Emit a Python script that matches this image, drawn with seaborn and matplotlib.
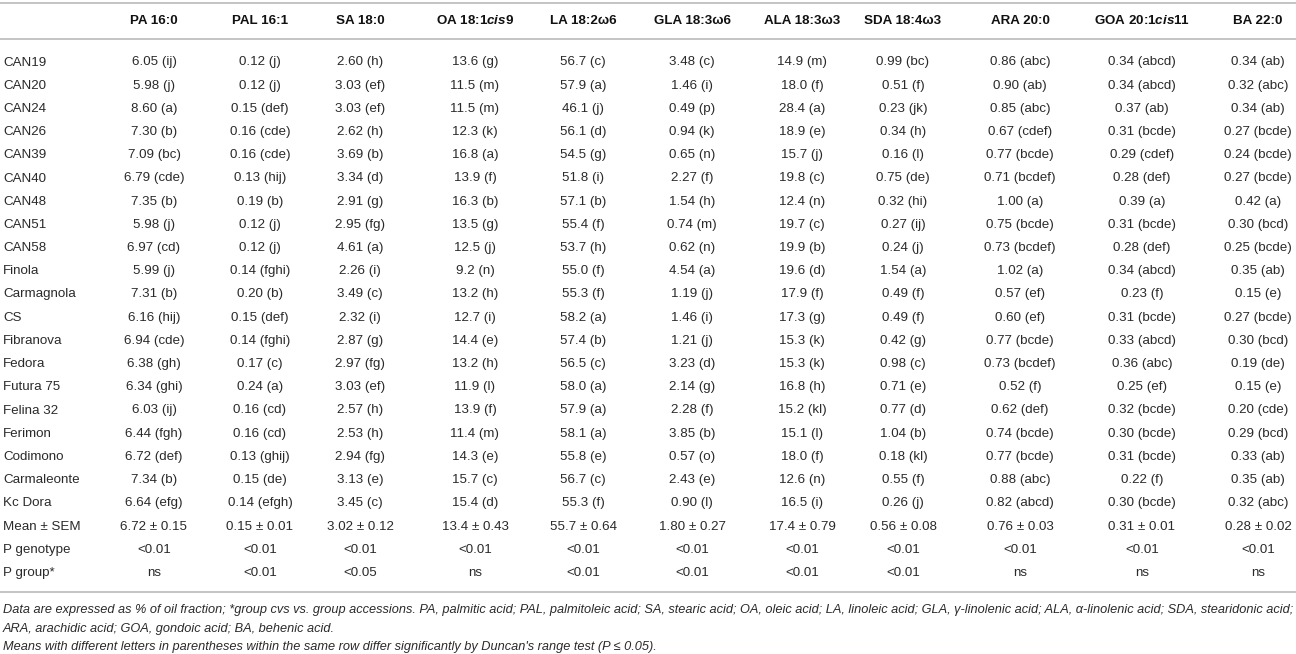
import matplotlib
matplotlib.use("Agg")
import matplotlib.pyplot as plt
import seaborn as sns
import pandas as pd

# row labels
genotypes = ["CAN19", "CAN20", "CAN24", "CAN26", "CAN39", "CAN40", "CAN48", "CAN51",
             "CAN58", "Finola", "Carmagnola", "CS", "Fibranova", "Fedora", "Futura 75",
             "Felina 32", "Ferimon", "Codimono", "Carmaleonte", "Kc Dora"]

# column headers (mathtext only for the italic "cis")
headers = ["PA 16:0", "PAL 16:1", "SA 18:0", r"OA 18:1$\mathit{cis}$9", "LA 18:2ω6",
           "GLA 18:3ω6", "ALA 18:3ω3", "SDA 18:4ω3", "ARA 20:0",
           r"GOA 20:1$\mathit{cis}$11", "BA 22:0"]

# values (% of oil fraction) and Duncan letters per fatty acid
pa = [6.05, 5.98, 8.60, 7.30, 7.09, 6.79, 7.35, 5.98, 6.97, 5.99, 7.31, 6.16, 6.94, 6.38,
      6.34, 6.03, 6.44, 6.72, 7.34, 6.64]
pa_let = ["ij", "j", "a", "b", "bc", "cde", "b", "j", "cd", "j", "b", "hij", "cde", "gh",
          "ghi", "ij", "fgh", "def", "b", "efg"]
pal = [0.12, 0.12, 0.15, 0.16, 0.16, 0.13, 0.19, 0.12, 0.12, 0.14, 0.20, 0.15, 0.14, 0.17,
       0.24, 0.16, 0.16, 0.13, 0.15, 0.14]
pal_let = ["j", "j", "def", "cde", "cde", "hij", "b", "j", "j", "fghi", "b", "def", "fghi",
           "c", "a", "cd", "cd", "ghij", "de", "efgh"]
sa = [2.60, 3.03, 3.03, 2.62, 3.69, 3.34, 2.91, 2.95, 4.61, 2.26, 3.49, 2.32, 2.87, 2.97,
      3.03, 2.57, 2.53, 2.94, 3.13, 3.45]
sa_let = ["h", "ef", "ef", "h", "b", "d", "g", "fg", "a", "i", "c", "i", "g", "fg", "ef",
          "h", "h", "fg", "e", "c"]
oa = [13.6, 11.5, 11.5, 12.3, 16.8, 13.9, 16.3, 13.5, 12.5, 9.2, 13.2, 12.7, 14.4, 13.2,
      11.9, 13.9, 11.4, 14.3, 15.7, 15.4]
oa_let = ["g", "m", "m", "k", "a", "f", "b", "g", "j", "n", "h", "i", "e", "h", "l", "f",
          "m", "e", "c", "d"]
la = [56.7, 57.9, 46.1, 56.1, 54.5, 51.8, 57.1, 55.4, 53.7, 55.0, 55.3, 58.2, 57.4, 56.5,
      58.0, 57.9, 58.1, 55.8, 56.7, 55.3]
la_let = ["c", "a", "j", "d", "g", "i", "b", "f", "h", "f", "f", "a", "b", "c", "a", "a",
          "a", "e", "c", "f"]
gla = [3.48, 1.46, 0.49, 0.94, 0.65, 2.27, 1.54, 0.74, 0.62, 4.54, 1.19, 1.46, 1.21, 3.23,
       2.14, 2.28, 3.85, 0.57, 2.43, 0.90]
gla_let = ["c", "i", "p", "k", "n", "f", "h", "m", "n", "a", "j", "i", "j", "d", "g", "f",
           "b", "o", "e", "l"]
ala = [14.9, 18.0, 28.4, 18.9, 15.7, 19.8, 12.4, 19.7, 19.9, 19.6, 17.9, 17.3, 15.3, 15.3,
       16.8, 15.2, 15.1, 18.0, 12.6, 16.5]
ala_let = ["m", "f", "a", "e", "j", "c", "n", "c", "b", "d", "f", "g", "k", "k", "h", "kl",
           "l", "f", "n", "i"]
sda = [0.99, 0.51, 0.23, 0.34, 0.16, 0.75, 0.32, 0.27, 0.24, 1.54, 0.49, 0.49, 0.42, 0.98,
       0.71, 0.77, 1.04, 0.18, 0.55, 0.26]
sda_let = ["bc", "f", "jk", "h", "l", "de", "hi", "ij", "j", "a", "f", "f", "g", "c", "e",
           "d", "b", "kl", "f", "j"]
ara = [0.86, 0.90, 0.85, 0.67, 0.77, 0.71, 1.00, 0.75, 0.73, 1.02, 0.57, 0.60, 0.77, 0.73,
       0.52, 0.62, 0.74, 0.77, 0.88, 0.82]
ara_let = ["abc", "ab", "abc", "cdef", "bcde", "bcdef", "a", "bcde", "bcdef", "a", "ef",
           "ef", "bcde", "bcdef", "f", "def", "bcde", "bcde", "abc", "abcd"]
goa = [0.34, 0.34, 0.37, 0.31, 0.29, 0.28, 0.39, 0.31, 0.28, 0.34, 0.23, 0.31, 0.33, 0.36,
       0.25, 0.32, 0.30, 0.31, 0.22, 0.30]
goa_let = ["abcd", "abcd", "ab", "bcde", "cdef", "def", "a", "bcde", "def", "abcd", "f",
           "bcde", "abcd", "abc", "ef", "bcde", "bcde", "bcde", "f", "bcde"]
ba = [0.34, 0.32, 0.34, 0.27, 0.24, 0.27, 0.42, 0.30, 0.25, 0.35, 0.15, 0.27, 0.30, 0.19,
      0.15, 0.20, 0.29, 0.33, 0.35, 0.32]
ba_let = ["ab", "abc", "ab", "bcde", "bcde", "bcde", "a", "bcd", "bcde", "ab", "e", "bcde",
          "bcd", "de", "e", "cde", "bcd", "ab", "ab", "abc"]

mean_vals = ["6.72", "0.15", "3.02", "13.4", "55.7", "1.80", "17.4", "0.56", "0.76", "0.31", "0.28"]
sem_vals = ["0.15", "0.01", "0.12", "0.43", "0.64", "0.27", "0.79", "0.08", "0.03", "0.01", "0.02"]
p_genotype = ["<0.01"] * 11
p_group = ["ns", "<0.01", "<0.05", "ns", "<0.01", "<0.01", "<0.01", "<0.01", "ns", "ns", "ns"]

footnotes = [
    "Data are expressed as % of oil fraction; *group cvs vs. group accessions. PA, palmitic acid; "
    "PAL, palmitoleic acid; SA, stearic acid; OA, oleic acid; LA, linoleic acid; GLA, γ-linolenic acid; "
    "ALA, α-linolenic acid; SDA, stearidonic acid;",
    "ARA, arachidic acid; GOA, gondoic acid; BA, behenic acid.",
    "Means with different letters in parentheses within the same row differ significantly by "
    "Duncan's range test (P ≤ 0.05).",
]

# build the cell table
cols = [(pa, pa_let, 2), (pal, pal_let, 2), (sa, sa_let, 2), (oa, oa_let, 1), (la, la_let, 1),
        (gla, gla_let, 2), (ala, ala_let, 1), (sda, sda_let, 2), (ara, ara_let, 2),
        (goa, goa_let, 2), (ba, ba_let, 2)]
table = pd.DataFrame(
    {h: [f"{v:.{d}f} ({l})" for v, l in zip(vals, lets)] for h, (vals, lets, d) in zip(headers, cols)},
    index=genotypes)
table.loc["Mean ± SEM"] = [f"{m} ± {s}" for m, s in zip(mean_vals, sem_vals)]
table.loc["P genotype"] = p_genotype
table.loc["P group*"] = p_group

sns.set_theme(style="white")
plt.rcParams["font.family"] = ["Liberation Sans", "DejaVu Sans"]
plt.rcParams["mathtext.fontset"] = "custom"
plt.rcParams["mathtext.rm"] = "Liberation Sans:bold"
plt.rcParams["mathtext.it"] = "Liberation Sans:italic:bold"

W, H = 1296, 654
fig = plt.figure(figsize=(W / 100, H / 100), dpi=100)
ax = fig.add_axes([0, 0, 1, 1])
ax.set_xlim(0, W)
ax.set_ylim(H, 0)
ax.axis("off")

# layout (pixels)
col_x = [154, 260, 360, 475, 583, 692, 802, 903, 1020, 1142, 1258]
label_x = 3
header_y = 21
row_y0 = 62.5
row_step = 23.2
fs = 9.6
txt_color = "#2a2a2a"
rule_color = "#c4c4c4"

for y in (3, 39, 592):
    ax.plot([0, W], [y, y], color=rule_color, lw=1.4, solid_capstyle="butt")

for x, h in zip(col_x, headers):
    ax.text(x, header_y, h, ha="center", va="center", fontsize=fs, fontweight="bold",
            color="#111111")

for i, (name, row) in enumerate(table.iterrows()):
    y = row_y0 + i * row_step
    ax.text(label_x, y, name, ha="left", va="center", fontsize=fs, color=txt_color)
    for x, cell in zip(col_x, row.values):
        ax.text(x, y, cell, ha="center", va="center", fontsize=fs, color=txt_color)

for y, line in zip([610, 629, 647], footnotes):
    ax.text(label_x, y, line, ha="left", va="center", fontsize=9.2, style="italic",
            color=txt_color)

fig.savefig("out.png", dpi=100)
